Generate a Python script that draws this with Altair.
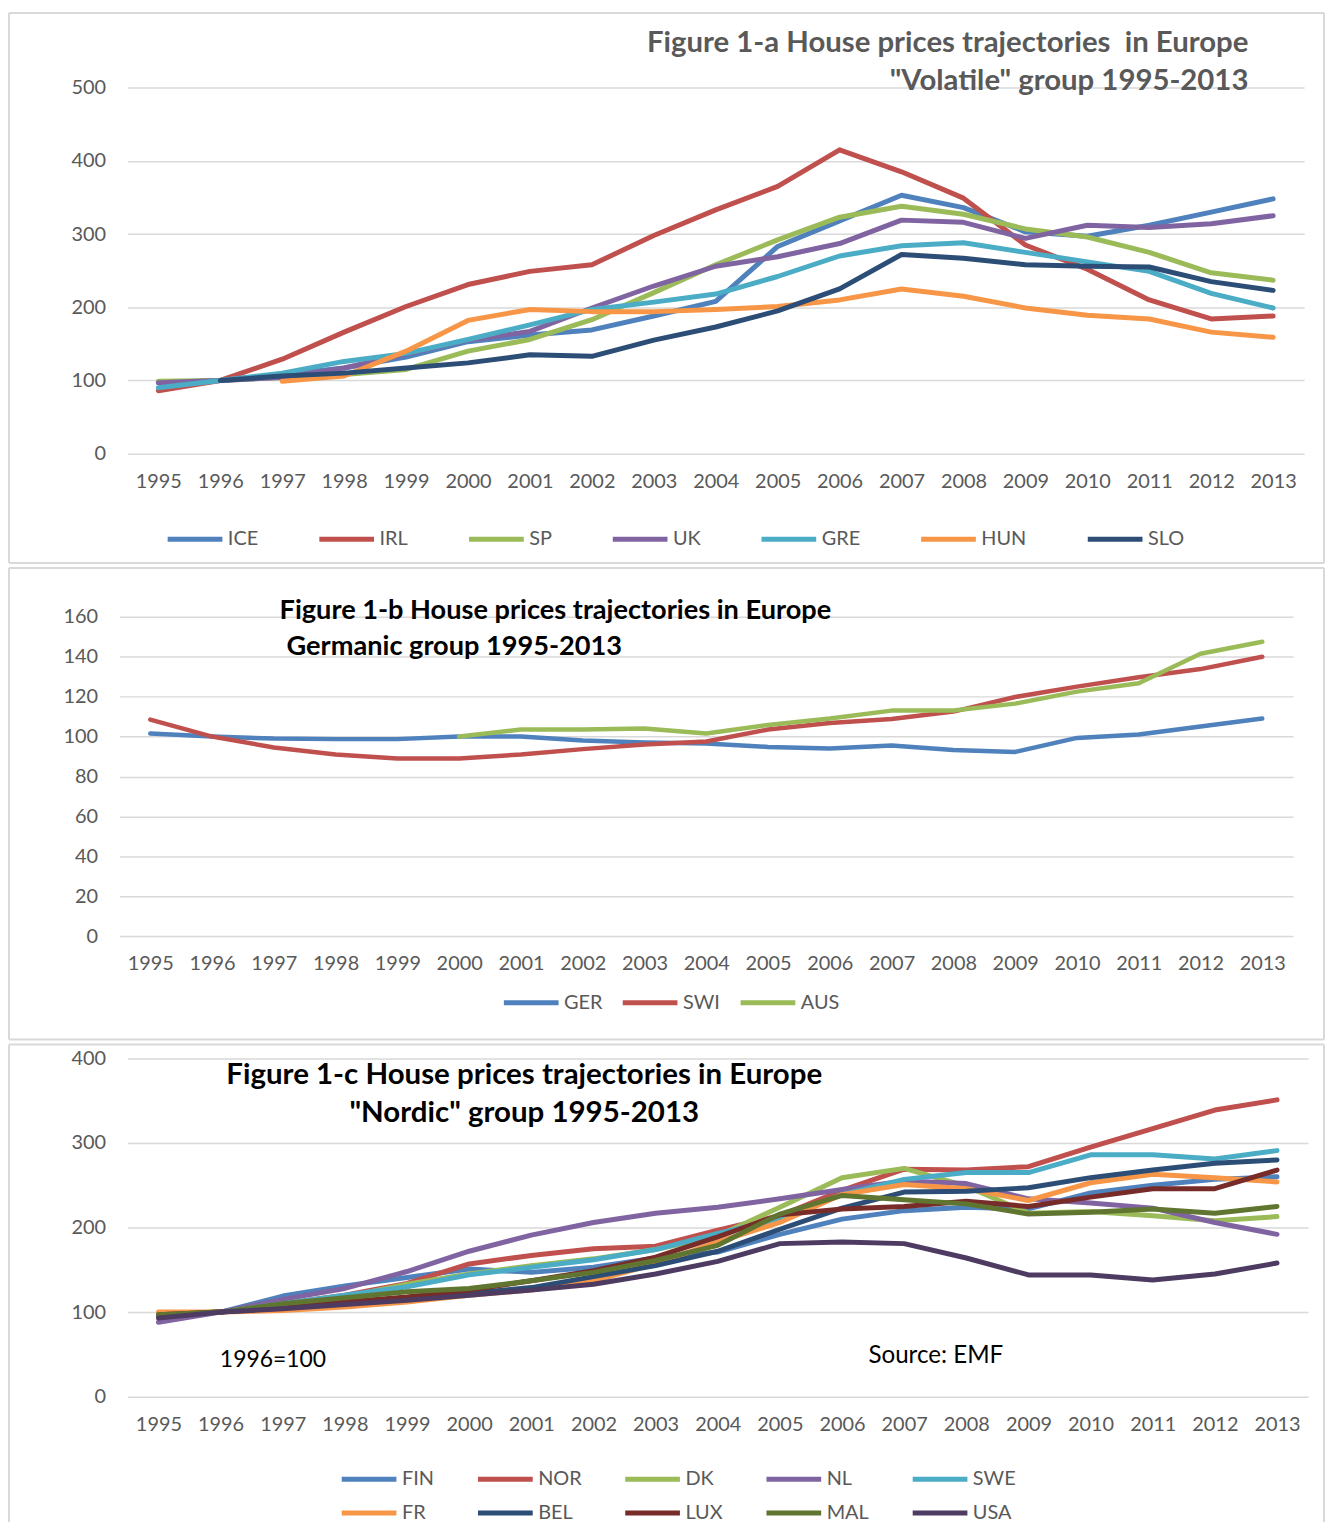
import altair as alt
import pandas as pd

years = [str(y) for y in range(1995, 2014)]

# ---------- Figure 1-a : "Volatile" group ----------
a_names = ["ICE", "IRL", "SP", "UK", "GRE", "HUN", "SLO"]
a_colors = ["#4F81BD", "#C0504D", "#9BBB59", "#8064A2", "#4BACC6", "#F79646", "#2C4D75"]
ICE = [97, 100, 108, 117, 132, 153, 162, 169, 188, 208, 283, 318, 353, 336, 303, 297, 312, 330, 348]
IRL = [86, 100, 129, 166, 201, 231, 249, 258, 298, 333, 365, 415, 385, 349, 285, 252, 210, 184, 188]
SP = [99, 100, 104, 108, 115, 140, 156, 183, 220, 258, 292, 323, 338, 327, 307, 296, 275, 247, 237]
UK = [97, 100, 104, 117, 136, 155, 167, 199, 229, 256, 269, 287, 319, 316, 294, 312, 309, 314, 325]
GRE = [90, 100, 110, 126, 137, 156, 176, 197, 207, 218, 242, 270, 284, 288, 275, 262, 249, 219, 199]
HUN = [None, None, 99, 106, 140, 182, 197, 194, 194, 197, 201, 210, 225, 215, 199, 189, 184, 166, 159]
SLO = [None, 100, 106, 110, 117, 124, 135, 133, 155, 173, 195, 225, 272, 267, 258, 256, 255, 235, 223]

# ---------- Figure 1-b : Germanic group ----------
b_names = ["GER", "SWI", "AUS"]
b_colors = ["#4F81BD", "#C0504D", "#9BBB59"]
GER = [101.5, 100, 99, 98.7, 98.7, 100, 100, 98, 97, 96.5, 94.8, 94, 95.5, 93.3, 92.3, 99.3, 101, 105, 109]
SWI = [108.5, 100, 94.5, 91, 89, 89, 91, 93.7, 96, 97.5, 103.5, 106.8, 108.8, 112.5, 119.8, 125, 129.7, 133.8, 140]
AUS = [None, None, None, None, None, 100, 103.5, 103.5, 104, 101.5, 105.8, 109, 113, 113, 116.5, 122.5, 126.7, 141.5, 147.5]

# ---------- Figure 1-c : "Nordic" group ----------
c_names = ["FIN", "NOR", "DK", "NL", "SWE", "FR", "BEL", "LUX", "MAL", "USA"]
c_colors = ["#4F81BD", "#C0504D", "#9BBB59", "#8064A2", "#4BACC6",
            "#F79646", "#2C4D75", "#772C2A", "#5F7530", "#4D3B62"]
FIN = [98, 100, 119, 131, 141, 151, 147, 153, 164, 171, 192, 210, 220, 224, 222, 241, 250, 257, 260]
NOR = [97, 100, 110, 120, 134, 157, 167, 175, 178, 197, 214, 244, 269, 268, 272, 295, 317, 339, 351]
DK = [98, 100, 108, 118, 133, 145, 155, 163, 174, 190, 224, 259, 270, 249, 217, 219, 214, 208, 213]
NL = [88, 100, 115, 128, 148, 172, 191, 206, 217, 224, 234, 245, 255, 252, 234, 229, 223, 206, 192]
SWE = [97, 100, 110, 120, 130, 144, 153, 162, 174, 193, 210, 239, 257, 265, 265, 286, 286, 281, 291]
FR = [100, 100, 102, 106, 112, 120, 126, 137, 157, 183, 206, 239, 251, 246, 232, 253, 263, 259, 254]
BEL = [96, 100, 105, 110, 115, 122, 129, 142, 155, 172, 198, 223, 242, 243, 247, 259, 268, 276, 280]
LUX = [97, 100, 106, 112, 118, 126, 137, 149, 165, 189, 215, 222, 225, 231, 225, 236, 246, 246, 268]
MAL = [97, 100, 110, 117, 124, 128, 137, 147, 161, 179, 216, 238, 233, 228, 216, 218, 222, 217, 225]
USA = [93, 100, 104, 109, 114, 120, 126, 133, 145, 160, 181, 183, 181, 164, 144, 144, 138, 145, 158]

FONT = "Lato"
GRAY = "#595959"
GRID = "#D9D9D9"


def long_df(names, series):
    rows = []
    for n, vals in zip(names, series):
        for y, v in zip(years, vals):
            if v is not None:
                rows.append({"year": y, "country": n, "value": v})
    return pd.DataFrame(rows)


def frame_layers(fx0, fy0, fx1, fy1, bottom=True):
    one = pd.DataFrame({"k": [0]})
    base = alt.Chart(one).mark_rule(stroke=GRID, strokeWidth=2)
    out = [
        base.encode(x=alt.value(fx0), x2=alt.value(fx1), y=alt.value(fy0)),
        base.encode(x=alt.value(fx0), y=alt.value(fy0), y2=alt.value(fy1)),
        base.encode(x=alt.value(fx1), y=alt.value(fy0), y2=alt.value(fy1)),
    ]
    if bottom:
        out.append(base.encode(x=alt.value(fx0), x2=alt.value(fx1), y=alt.value(fy1)))
    return out


def panel(df, names, colors, width, height, ymax, ystep, lw, leg, frame, texts,
          xrange=None, ylabpad=22, bottom=True):
    xscale = alt.Scale(type="point", padding=0.5)
    if xrange is not None:
        xscale = alt.Scale(type="point", padding=0.5, range=xrange)
    x = alt.X("year:O", sort=years, scale=xscale,
              axis=alt.Axis(title=None, labelAngle=0, ticks=False, domain=False,
                            labelPadding=18, labelFontSize=20, labelColor=GRAY,
                            labelFont=FONT))
    y = alt.Y("value:Q", scale=alt.Scale(domain=[0, ymax], nice=False),
              axis=alt.Axis(title=None, values=list(range(0, ymax + 1, ystep)),
                            ticks=False, domain=False, grid=True, gridColor=GRID,
                            gridWidth=1.5, labelPadding=ylabpad, labelFontSize=20,
                            labelColor=GRAY, labelFont=FONT))
    color = alt.Color("country:N", sort=names,
                      scale=alt.Scale(domain=names, range=colors),
                      legend=alt.Legend(title=None, orient="none",
                                        legendX=leg["x"], legendY=leg["y"],
                                        direction="horizontal", columns=leg["cols"],
                                        symbolType="stroke", symbolSize=3025,
                                        symbolStrokeWidth=5, clipHeight=20,
                                        labelFontSize=20,
                                        labelColor=GRAY, labelFont=FONT,
                                        labelOffset=3,
                                        columnPadding=leg["colpad"],
                                        rowPadding=leg["rowpad"]))
    fx0, fy0, fx1, fy1 = frame
    lines = alt.Chart(df).mark_line(strokeWidth=lw, strokeCap="round",
                                    strokeJoin="round").encode(
        x=x, y=y, color=color)
    layers = frame_layers(fx0, fy0, fx1, fy1, bottom) + [lines]
    for t in texts:
        layers.append(
            alt.Chart(pd.DataFrame({"t": [t["text"]]})).mark_text(
                align=t["align"], baseline="middle", fontSize=t["size"],
                fontWeight=t.get("weight", "normal"), font=FONT,
                color=t["color"]).encode(
                x=alt.value(t["x"]), y=alt.value(t["y"]), text="t:N"))
    return alt.layer(*layers).properties(width=width, height=height)


chart_a = panel(
    long_df(a_names, [ICE, IRL, SP, UK, GRE, HUN, SLO]), a_names, a_colors,
    1183, 368, 500, 100, 5,
    {"x": 38, "y": 444, "cols": 7, "colpad": 58.5, "rowpad": 10},
    (-119, -75, 1203, 478),
    [
        {"text": "Figure 1-a House prices trajectories \u00a0in Europe", "x": 1127, "y": -45,
         "align": "right", "size": 29.5, "weight": "bold", "color": GRAY},
        {"text": "\"Volatile\" group 1995-2013", "x": 1127, "y": -7,
         "align": "right", "size": 29.5, "weight": "bold", "color": GRAY},
    ])

chart_b = panel(
    long_df(b_names, [GER, SWI, AUS]), b_names, b_colors,
    1171, 321, 160, 20, 4.5,
    {"x": 376, "y": 378, "cols": 3, "colpad": 17.5, "rowpad": 10},
    (-119, -49, 1203, 425),
    [
        {"text": "Figure 1-b House prices trajectories in Europe", "x": 153, "y": -6,
         "align": "left", "size": 27.3, "weight": "bold", "color": "#000000"},
        {"text": "Germanic group 1995-2013", "x": 160, "y": 30,
         "align": "left", "size": 27.3, "weight": "bold", "color": "#000000"},
    ],
    xrange=[-8, 1172], ylabpad=30)

chart_c = panel(
    long_df(c_names, [FIN, NOR, DK, NL, SWE, FR, BEL, LUX, MAL, USA]), c_names, c_colors,
    1187, 340, 400, 100, 5,
    {"x": 213, "y": 413, "cols": 5, "colpad": 41, "rowpad": 14},
    (-119, -14, 1203, 466),
    [
        {"text": "Figure 1-c House prices trajectories in Europe", "x": 399, "y": 17,
         "align": "center", "size": 29.6, "weight": "bold", "color": "#000000"},
        {"text": "\"Nordic\" group 1995-2013", "x": 399, "y": 55,
         "align": "center", "size": 29.6, "weight": "bold", "color": "#000000"},
        {"text": "1996=100", "x": 93, "y": 303, "align": "left", "size": 23,
         "color": "#000000"},
        {"text": "Source: EMF", "x": 745, "y": 299, "align": "left", "size": 24.3,
         "color": "#000000"},
    ],
    bottom=False)

chart = alt.vconcat(chart_a, chart_b, chart_c, spacing=3).properties(
    padding={"left": 0, "top": 0, "right": 0, "bottom": 0}
).configure_view(stroke=None).resolve_scale(color="independent", x="independent", y="independent")

chart.save("out.html", embed_options={"renderer": "svg", "actions": False})
